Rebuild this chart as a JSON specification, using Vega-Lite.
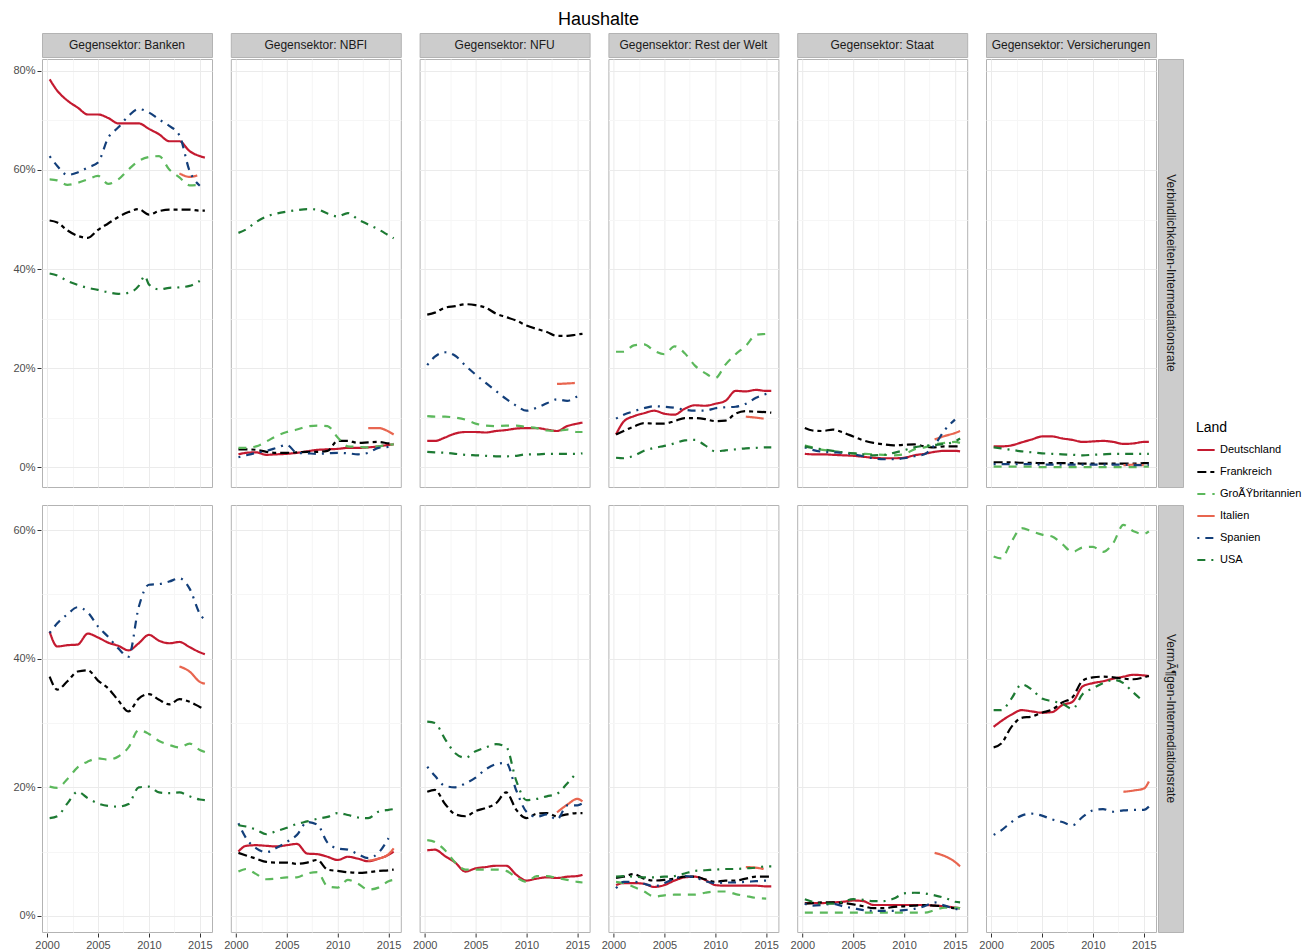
{
"$schema": "https://vega.github.io/schema/vega-lite/v6.json",
"background": "white",
"padding": {"left": 12, "top": 10, "right": 5, "bottom": 2},
"title": {"text": "Haushalte", "fontSize": 18, "fontWeight": "normal", "font": "Liberation Sans", "color": "#000000", "anchor": "start", "dx": 545, "offset": 4},
"datasets": {
"strips": [
{"g":"B","t":"Gegensektor: Banken"},{"g":"NB","t":"Gegensektor: NBFI"},{"g":"NF","t":"Gegensektor: NFU"},{"g":"R","t":"Gegensektor: Rest der Welt"},{"g":"S","t":"Gegensektor: Staat"},{"g":"V","t":"Gegensektor: Versicherungen"}
],
"main": [
{"g":"B","r":"L","l":"DE","x":2000.25,"y":78.3},{"g":"B","r":"L","l":"DE","x":2001,"y":76},{"g":"B","r":"L","l":"DE","x":2002,"y":74},{"g":"B","r":"L","l":"DE","x":2003,"y":72.6},{"g":"B","r":"L","l":"DE","x":2004,"y":71.2},{"g":"B","r":"L","l":"DE","x":2005,"y":71.2},{"g":"B","r":"L","l":"DE","x":2006,"y":70.5},{"g":"B","r":"L","l":"DE","x":2007,"y":69.4},{"g":"B","r":"L","l":"DE","x":2008,"y":69.4},{"g":"B","r":"L","l":"DE","x":2009,"y":69.4},{"g":"B","r":"L","l":"DE","x":2010,"y":68.3},{"g":"B","r":"L","l":"DE","x":2011,"y":67.2},{"g":"B","r":"L","l":"DE","x":2012,"y":65.8},{"g":"B","r":"L","l":"DE","x":2013,"y":65.8},{"g":"B","r":"L","l":"DE","x":2014,"y":63.8},{"g":"B","r":"L","l":"DE","x":2015,"y":62.8},{"g":"B","r":"L","l":"DE","x":2015.5,"y":62.5},
{"g":"B","r":"L","l":"FR","x":2000.25,"y":49.8},{"g":"B","r":"L","l":"FR","x":2001,"y":49.4},{"g":"B","r":"L","l":"FR","x":2002,"y":47.8},{"g":"B","r":"L","l":"FR","x":2003,"y":46.7},{"g":"B","r":"L","l":"FR","x":2004,"y":46.3},{"g":"B","r":"L","l":"FR","x":2005,"y":47.9},{"g":"B","r":"L","l":"FR","x":2006,"y":49.2},{"g":"B","r":"L","l":"FR","x":2007,"y":50.5},{"g":"B","r":"L","l":"FR","x":2008,"y":51.5},{"g":"B","r":"L","l":"FR","x":2009,"y":52.1},{"g":"B","r":"L","l":"FR","x":2010,"y":51},{"g":"B","r":"L","l":"FR","x":2011,"y":51.7},{"g":"B","r":"L","l":"FR","x":2012,"y":52},{"g":"B","r":"L","l":"FR","x":2013,"y":52},{"g":"B","r":"L","l":"FR","x":2014,"y":52},{"g":"B","r":"L","l":"FR","x":2015,"y":51.8},{"g":"B","r":"L","l":"FR","x":2015.5,"y":51.8},
{"g":"B","r":"L","l":"GB","x":2000.25,"y":58.1},{"g":"B","r":"L","l":"GB","x":2001,"y":57.9},{"g":"B","r":"L","l":"GB","x":2002,"y":57},{"g":"B","r":"L","l":"GB","x":2003,"y":57.4},{"g":"B","r":"L","l":"GB","x":2004,"y":58.1},{"g":"B","r":"L","l":"GB","x":2005,"y":58.8},{"g":"B","r":"L","l":"GB","x":2006,"y":57.2},{"g":"B","r":"L","l":"GB","x":2007,"y":58.1},{"g":"B","r":"L","l":"GB","x":2008,"y":60.1},{"g":"B","r":"L","l":"GB","x":2009,"y":61.8},{"g":"B","r":"L","l":"GB","x":2010,"y":62.6},{"g":"B","r":"L","l":"GB","x":2011,"y":62.8},{"g":"B","r":"L","l":"GB","x":2012,"y":60.1},{"g":"B","r":"L","l":"GB","x":2013,"y":58.5},{"g":"B","r":"L","l":"GB","x":2014,"y":56.9},{"g":"B","r":"L","l":"GB","x":2015,"y":57},
{"g":"B","r":"L","l":"IT","x":2013,"y":59.3},{"g":"B","r":"L","l":"IT","x":2014,"y":58.6},{"g":"B","r":"L","l":"IT","x":2014.75,"y":58.9},
{"g":"B","r":"L","l":"ES","x":2000.25,"y":62.8},{"g":"B","r":"L","l":"ES","x":2001,"y":60.8},{"g":"B","r":"L","l":"ES","x":2002,"y":59},{"g":"B","r":"L","l":"ES","x":2003,"y":59.5},{"g":"B","r":"L","l":"ES","x":2004,"y":60.5},{"g":"B","r":"L","l":"ES","x":2005,"y":61.5},{"g":"B","r":"L","l":"ES","x":2006,"y":66.5},{"g":"B","r":"L","l":"ES","x":2007,"y":68.6},{"g":"B","r":"L","l":"ES","x":2008,"y":70.9},{"g":"B","r":"L","l":"ES","x":2009,"y":72.3},{"g":"B","r":"L","l":"ES","x":2010,"y":71.6},{"g":"B","r":"L","l":"ES","x":2011,"y":70.2},{"g":"B","r":"L","l":"ES","x":2012,"y":68.9},{"g":"B","r":"L","l":"ES","x":2013,"y":67},{"g":"B","r":"L","l":"ES","x":2014,"y":59.8},{"g":"B","r":"L","l":"ES","x":2015,"y":56.8},
{"g":"B","r":"L","l":"US","x":2000.25,"y":39.1},{"g":"B","r":"L","l":"US","x":2001,"y":38.7},{"g":"B","r":"L","l":"US","x":2002,"y":37.6},{"g":"B","r":"L","l":"US","x":2003,"y":36.8},{"g":"B","r":"L","l":"US","x":2004,"y":36.2},{"g":"B","r":"L","l":"US","x":2005,"y":35.8},{"g":"B","r":"L","l":"US","x":2006,"y":35.3},{"g":"B","r":"L","l":"US","x":2007,"y":35},{"g":"B","r":"L","l":"US","x":2008,"y":35.2},{"g":"B","r":"L","l":"US","x":2009,"y":36.6},{"g":"B","r":"L","l":"US","x":2009.6,"y":38.6},{"g":"B","r":"L","l":"US","x":2010,"y":36.9},{"g":"B","r":"L","l":"US","x":2011,"y":35.9},{"g":"B","r":"L","l":"US","x":2012,"y":36.2},{"g":"B","r":"L","l":"US","x":2013,"y":36.3},{"g":"B","r":"L","l":"US","x":2014,"y":36.6},{"g":"B","r":"L","l":"US","x":2015,"y":37.6},

{"g":"NB","r":"L","l":"DE","x":2000.25,"y":2.6},{"g":"NB","r":"L","l":"DE","x":2001,"y":2.9},{"g":"NB","r":"L","l":"DE","x":2002,"y":3},{"g":"NB","r":"L","l":"DE","x":2003,"y":2.5},{"g":"NB","r":"L","l":"DE","x":2004,"y":2.6},{"g":"NB","r":"L","l":"DE","x":2005,"y":2.7},{"g":"NB","r":"L","l":"DE","x":2006,"y":2.9},{"g":"NB","r":"L","l":"DE","x":2007,"y":3.2},{"g":"NB","r":"L","l":"DE","x":2008,"y":3.5},{"g":"NB","r":"L","l":"DE","x":2009,"y":3.6},{"g":"NB","r":"L","l":"DE","x":2010,"y":3.7},{"g":"NB","r":"L","l":"DE","x":2011,"y":3.9},{"g":"NB","r":"L","l":"DE","x":2012,"y":3.9},{"g":"NB","r":"L","l":"DE","x":2013,"y":4},{"g":"NB","r":"L","l":"DE","x":2014,"y":4.2},{"g":"NB","r":"L","l":"DE","x":2015,"y":4.5},{"g":"NB","r":"L","l":"DE","x":2015.5,"y":4.6},
{"g":"NB","r":"L","l":"FR","x":2000.25,"y":3.6},{"g":"NB","r":"L","l":"FR","x":2001,"y":3.6},{"g":"NB","r":"L","l":"FR","x":2002,"y":3.5},{"g":"NB","r":"L","l":"FR","x":2003,"y":3.1},{"g":"NB","r":"L","l":"FR","x":2004,"y":2.9},{"g":"NB","r":"L","l":"FR","x":2005,"y":2.9},{"g":"NB","r":"L","l":"FR","x":2006,"y":3},{"g":"NB","r":"L","l":"FR","x":2007,"y":3.1},{"g":"NB","r":"L","l":"FR","x":2008,"y":3.1},{"g":"NB","r":"L","l":"FR","x":2009,"y":3.3},{"g":"NB","r":"L","l":"FR","x":2010,"y":5.3},{"g":"NB","r":"L","l":"FR","x":2011,"y":5.3},{"g":"NB","r":"L","l":"FR","x":2012,"y":4.9},{"g":"NB","r":"L","l":"FR","x":2013,"y":5},{"g":"NB","r":"L","l":"FR","x":2014,"y":5.1},{"g":"NB","r":"L","l":"FR","x":2015,"y":4.8},{"g":"NB","r":"L","l":"FR","x":2015.5,"y":4.7},
{"g":"NB","r":"L","l":"GB","x":2000.25,"y":3.9},{"g":"NB","r":"L","l":"GB","x":2001,"y":3.9},{"g":"NB","r":"L","l":"GB","x":2002,"y":4.2},{"g":"NB","r":"L","l":"GB","x":2003,"y":5.2},{"g":"NB","r":"L","l":"GB","x":2004,"y":6.3},{"g":"NB","r":"L","l":"GB","x":2005,"y":7.1},{"g":"NB","r":"L","l":"GB","x":2006,"y":7.6},{"g":"NB","r":"L","l":"GB","x":2007,"y":8.2},{"g":"NB","r":"L","l":"GB","x":2008,"y":8.4},{"g":"NB","r":"L","l":"GB","x":2009,"y":8.3},{"g":"NB","r":"L","l":"GB","x":2010,"y":6},{"g":"NB","r":"L","l":"GB","x":2011,"y":4.2},{"g":"NB","r":"L","l":"GB","x":2012,"y":4.1},{"g":"NB","r":"L","l":"GB","x":2013,"y":4},{"g":"NB","r":"L","l":"GB","x":2014,"y":4.2},{"g":"NB","r":"L","l":"GB","x":2015,"y":4.5},{"g":"NB","r":"L","l":"GB","x":2015.5,"y":4.6},
{"g":"NB","r":"L","l":"IT","x":2013,"y":7.9},{"g":"NB","r":"L","l":"IT","x":2014,"y":7.9},{"g":"NB","r":"L","l":"IT","x":2015,"y":7.2},{"g":"NB","r":"L","l":"IT","x":2015.5,"y":6.6},
{"g":"NB","r":"L","l":"ES","x":2000.25,"y":2},{"g":"NB","r":"L","l":"ES","x":2001,"y":2.4},{"g":"NB","r":"L","l":"ES","x":2002,"y":2.9},{"g":"NB","r":"L","l":"ES","x":2003,"y":3.3},{"g":"NB","r":"L","l":"ES","x":2004,"y":3.9},{"g":"NB","r":"L","l":"ES","x":2005,"y":4.5},{"g":"NB","r":"L","l":"ES","x":2006,"y":2.9},{"g":"NB","r":"L","l":"ES","x":2007,"y":2.8},{"g":"NB","r":"L","l":"ES","x":2008,"y":2.7},{"g":"NB","r":"L","l":"ES","x":2009,"y":2.8},{"g":"NB","r":"L","l":"ES","x":2010,"y":2.9},{"g":"NB","r":"L","l":"ES","x":2011,"y":2.8},{"g":"NB","r":"L","l":"ES","x":2012,"y":2.6},{"g":"NB","r":"L","l":"ES","x":2013,"y":2.9},{"g":"NB","r":"L","l":"ES","x":2014,"y":3.9},{"g":"NB","r":"L","l":"ES","x":2015,"y":4.1},{"g":"NB","r":"L","l":"ES","x":2015.5,"y":4.2},
{"g":"NB","r":"L","l":"US","x":2000.25,"y":47.3},{"g":"NB","r":"L","l":"US","x":2001,"y":48},{"g":"NB","r":"L","l":"US","x":2002,"y":49.5},{"g":"NB","r":"L","l":"US","x":2003,"y":50.6},{"g":"NB","r":"L","l":"US","x":2004,"y":51.2},{"g":"NB","r":"L","l":"US","x":2005,"y":51.6},{"g":"NB","r":"L","l":"US","x":2006,"y":51.9},{"g":"NB","r":"L","l":"US","x":2007,"y":52.1},{"g":"NB","r":"L","l":"US","x":2008,"y":52},{"g":"NB","r":"L","l":"US","x":2009,"y":51.2},{"g":"NB","r":"L","l":"US","x":2010,"y":50.6},{"g":"NB","r":"L","l":"US","x":2011,"y":51.3},{"g":"NB","r":"L","l":"US","x":2012,"y":50},{"g":"NB","r":"L","l":"US","x":2013,"y":49},{"g":"NB","r":"L","l":"US","x":2014,"y":48},{"g":"NB","r":"L","l":"US","x":2015,"y":46.8},{"g":"NB","r":"L","l":"US","x":2015.5,"y":46.2},

{"g":"NF","r":"L","l":"DE","x":2000.25,"y":5.3},{"g":"NF","r":"L","l":"DE","x":2001,"y":5.3},{"g":"NF","r":"L","l":"DE","x":2002,"y":6},{"g":"NF","r":"L","l":"DE","x":2003,"y":6.8},{"g":"NF","r":"L","l":"DE","x":2004,"y":7.1},{"g":"NF","r":"L","l":"DE","x":2005,"y":7.1},{"g":"NF","r":"L","l":"DE","x":2006,"y":7},{"g":"NF","r":"L","l":"DE","x":2007,"y":7.3},{"g":"NF","r":"L","l":"DE","x":2008,"y":7.5},{"g":"NF","r":"L","l":"DE","x":2009,"y":7.8},{"g":"NF","r":"L","l":"DE","x":2010,"y":7.9},{"g":"NF","r":"L","l":"DE","x":2011,"y":7.9},{"g":"NF","r":"L","l":"DE","x":2012,"y":7.6},{"g":"NF","r":"L","l":"DE","x":2013,"y":7.3},{"g":"NF","r":"L","l":"DE","x":2014,"y":8.3},{"g":"NF","r":"L","l":"DE","x":2015,"y":8.8},{"g":"NF","r":"L","l":"DE","x":2015.5,"y":9},
{"g":"NF","r":"L","l":"FR","x":2000.25,"y":30.8},{"g":"NF","r":"L","l":"FR","x":2001,"y":31.2},{"g":"NF","r":"L","l":"FR","x":2002,"y":32.2},{"g":"NF","r":"L","l":"FR","x":2003,"y":32.5},{"g":"NF","r":"L","l":"FR","x":2004,"y":32.9},{"g":"NF","r":"L","l":"FR","x":2005,"y":32.7},{"g":"NF","r":"L","l":"FR","x":2006,"y":32.2},{"g":"NF","r":"L","l":"FR","x":2007,"y":31},{"g":"NF","r":"L","l":"FR","x":2008,"y":30.3},{"g":"NF","r":"L","l":"FR","x":2009,"y":29.6},{"g":"NF","r":"L","l":"FR","x":2010,"y":28.6},{"g":"NF","r":"L","l":"FR","x":2011,"y":27.9},{"g":"NF","r":"L","l":"FR","x":2012,"y":27.3},{"g":"NF","r":"L","l":"FR","x":2013,"y":26.5},{"g":"NF","r":"L","l":"FR","x":2014,"y":26.5},{"g":"NF","r":"L","l":"FR","x":2015,"y":26.8},{"g":"NF","r":"L","l":"FR","x":2015.5,"y":26.9},
{"g":"NF","r":"L","l":"GB","x":2000.25,"y":10.3},{"g":"NF","r":"L","l":"GB","x":2001,"y":10.2},{"g":"NF","r":"L","l":"GB","x":2002,"y":10.2},{"g":"NF","r":"L","l":"GB","x":2003,"y":10},{"g":"NF","r":"L","l":"GB","x":2004,"y":9.6},{"g":"NF","r":"L","l":"GB","x":2005,"y":8.8},{"g":"NF","r":"L","l":"GB","x":2006,"y":8.4},{"g":"NF","r":"L","l":"GB","x":2007,"y":8.3},{"g":"NF","r":"L","l":"GB","x":2008,"y":8.4},{"g":"NF","r":"L","l":"GB","x":2009,"y":8.4},{"g":"NF","r":"L","l":"GB","x":2010,"y":8.1},{"g":"NF","r":"L","l":"GB","x":2011,"y":7.9},{"g":"NF","r":"L","l":"GB","x":2012,"y":7.4},{"g":"NF","r":"L","l":"GB","x":2013,"y":7.3},{"g":"NF","r":"L","l":"GB","x":2014,"y":7.6},{"g":"NF","r":"L","l":"GB","x":2015,"y":7.1},{"g":"NF","r":"L","l":"GB","x":2015.5,"y":7.1},
{"g":"NF","r":"L","l":"IT","x":2013,"y":16.8},{"g":"NF","r":"L","l":"IT","x":2014,"y":16.9},{"g":"NF","r":"L","l":"IT","x":2014.75,"y":17},
{"g":"NF","r":"L","l":"ES","x":2000.25,"y":20.6},{"g":"NF","r":"L","l":"ES","x":2001,"y":22.3},{"g":"NF","r":"L","l":"ES","x":2002,"y":23.2},{"g":"NF","r":"L","l":"ES","x":2003,"y":22.5},{"g":"NF","r":"L","l":"ES","x":2004,"y":20.5},{"g":"NF","r":"L","l":"ES","x":2005,"y":18.7},{"g":"NF","r":"L","l":"ES","x":2006,"y":17},{"g":"NF","r":"L","l":"ES","x":2007,"y":15.4},{"g":"NF","r":"L","l":"ES","x":2008,"y":13.8},{"g":"NF","r":"L","l":"ES","x":2009,"y":12.4},{"g":"NF","r":"L","l":"ES","x":2010,"y":11.4},{"g":"NF","r":"L","l":"ES","x":2011,"y":12},{"g":"NF","r":"L","l":"ES","x":2012,"y":12.9},{"g":"NF","r":"L","l":"ES","x":2013,"y":13.7},{"g":"NF","r":"L","l":"ES","x":2014,"y":13.4},{"g":"NF","r":"L","l":"ES","x":2015,"y":14.3},{"g":"NF","r":"L","l":"ES","x":2015.5,"y":14.8},
{"g":"NF","r":"L","l":"US","x":2000.25,"y":3.1},{"g":"NF","r":"L","l":"US","x":2001,"y":3},{"g":"NF","r":"L","l":"US","x":2002,"y":2.9},{"g":"NF","r":"L","l":"US","x":2003,"y":2.7},{"g":"NF","r":"L","l":"US","x":2004,"y":2.5},{"g":"NF","r":"L","l":"US","x":2005,"y":2.4},{"g":"NF","r":"L","l":"US","x":2006,"y":2.3},{"g":"NF","r":"L","l":"US","x":2007,"y":2.2},{"g":"NF","r":"L","l":"US","x":2008,"y":2.2},{"g":"NF","r":"L","l":"US","x":2009,"y":2.3},{"g":"NF","r":"L","l":"US","x":2010,"y":2.6},{"g":"NF","r":"L","l":"US","x":2011,"y":2.6},{"g":"NF","r":"L","l":"US","x":2012,"y":2.7},{"g":"NF","r":"L","l":"US","x":2013,"y":2.7},{"g":"NF","r":"L","l":"US","x":2014,"y":2.7},{"g":"NF","r":"L","l":"US","x":2015,"y":2.7},{"g":"NF","r":"L","l":"US","x":2015.5,"y":2.8},

{"g":"R","r":"L","l":"DE","x":2000.25,"y":6.6},{"g":"R","r":"L","l":"DE","x":2001,"y":9.2},{"g":"R","r":"L","l":"DE","x":2002,"y":10.3},{"g":"R","r":"L","l":"DE","x":2003,"y":10.9},{"g":"R","r":"L","l":"DE","x":2004,"y":11.4},{"g":"R","r":"L","l":"DE","x":2005,"y":10.8},{"g":"R","r":"L","l":"DE","x":2006,"y":10.6},{"g":"R","r":"L","l":"DE","x":2007,"y":11.8},{"g":"R","r":"L","l":"DE","x":2008,"y":12.5},{"g":"R","r":"L","l":"DE","x":2009,"y":12.4},{"g":"R","r":"L","l":"DE","x":2010,"y":12.8},{"g":"R","r":"L","l":"DE","x":2011,"y":13.4},{"g":"R","r":"L","l":"DE","x":2012,"y":15.4},{"g":"R","r":"L","l":"DE","x":2013,"y":15.3},{"g":"R","r":"L","l":"DE","x":2014,"y":15.6},{"g":"R","r":"L","l":"DE","x":2015,"y":15.4},{"g":"R","r":"L","l":"DE","x":2015.5,"y":15.4},
{"g":"R","r":"L","l":"FR","x":2000.25,"y":6.6},{"g":"R","r":"L","l":"FR","x":2001,"y":7.3},{"g":"R","r":"L","l":"FR","x":2002,"y":8.2},{"g":"R","r":"L","l":"FR","x":2003,"y":8.9},{"g":"R","r":"L","l":"FR","x":2004,"y":8.8},{"g":"R","r":"L","l":"FR","x":2005,"y":8.8},{"g":"R","r":"L","l":"FR","x":2006,"y":9.3},{"g":"R","r":"L","l":"FR","x":2007,"y":9.9},{"g":"R","r":"L","l":"FR","x":2008,"y":9.9},{"g":"R","r":"L","l":"FR","x":2009,"y":9.7},{"g":"R","r":"L","l":"FR","x":2010,"y":9.3},{"g":"R","r":"L","l":"FR","x":2011,"y":9.4},{"g":"R","r":"L","l":"FR","x":2012,"y":10.8},{"g":"R","r":"L","l":"FR","x":2013,"y":11.3},{"g":"R","r":"L","l":"FR","x":2014,"y":11.2},{"g":"R","r":"L","l":"FR","x":2015,"y":11.1},{"g":"R","r":"L","l":"FR","x":2015.5,"y":11},
{"g":"R","r":"L","l":"GB","x":2000.25,"y":23.3},{"g":"R","r":"L","l":"GB","x":2001,"y":23.3},{"g":"R","r":"L","l":"GB","x":2002,"y":24.6},{"g":"R","r":"L","l":"GB","x":2003,"y":24.8},{"g":"R","r":"L","l":"GB","x":2004,"y":23.5},{"g":"R","r":"L","l":"GB","x":2005,"y":22.8},{"g":"R","r":"L","l":"GB","x":2006,"y":24.4},{"g":"R","r":"L","l":"GB","x":2007,"y":23},{"g":"R","r":"L","l":"GB","x":2008,"y":20.5},{"g":"R","r":"L","l":"GB","x":2009,"y":19},{"g":"R","r":"L","l":"GB","x":2010,"y":18},{"g":"R","r":"L","l":"GB","x":2011,"y":20.7},{"g":"R","r":"L","l":"GB","x":2012,"y":22.8},{"g":"R","r":"L","l":"GB","x":2013,"y":24.5},{"g":"R","r":"L","l":"GB","x":2014,"y":26.7},{"g":"R","r":"L","l":"GB","x":2015,"y":26.9},{"g":"R","r":"L","l":"GB","x":2015.5,"y":27},
{"g":"R","r":"L","l":"IT","x":2013,"y":10.2},{"g":"R","r":"L","l":"IT","x":2014,"y":10},{"g":"R","r":"L","l":"IT","x":2014.75,"y":9.8},
{"g":"R","r":"L","l":"ES","x":2000.25,"y":9.8},{"g":"R","r":"L","l":"ES","x":2001,"y":10.6},{"g":"R","r":"L","l":"ES","x":2002,"y":11.3},{"g":"R","r":"L","l":"ES","x":2003,"y":11.9},{"g":"R","r":"L","l":"ES","x":2004,"y":12.3},{"g":"R","r":"L","l":"ES","x":2005,"y":12.2},{"g":"R","r":"L","l":"ES","x":2006,"y":12},{"g":"R","r":"L","l":"ES","x":2007,"y":11.6},{"g":"R","r":"L","l":"ES","x":2008,"y":11.4},{"g":"R","r":"L","l":"ES","x":2009,"y":11.4},{"g":"R","r":"L","l":"ES","x":2010,"y":11.9},{"g":"R","r":"L","l":"ES","x":2011,"y":12.1},{"g":"R","r":"L","l":"ES","x":2012,"y":12.2},{"g":"R","r":"L","l":"ES","x":2013,"y":12.8},{"g":"R","r":"L","l":"ES","x":2014,"y":14},{"g":"R","r":"L","l":"ES","x":2015,"y":14.8},{"g":"R","r":"L","l":"ES","x":2015.5,"y":15.1},
{"g":"R","r":"L","l":"US","x":2000.25,"y":1.9},{"g":"R","r":"L","l":"US","x":2001,"y":1.8},{"g":"R","r":"L","l":"US","x":2002,"y":2.3},{"g":"R","r":"L","l":"US","x":2003,"y":3.3},{"g":"R","r":"L","l":"US","x":2004,"y":3.9},{"g":"R","r":"L","l":"US","x":2005,"y":4.3},{"g":"R","r":"L","l":"US","x":2006,"y":4.8},{"g":"R","r":"L","l":"US","x":2007,"y":5.4},{"g":"R","r":"L","l":"US","x":2008,"y":5.5},{"g":"R","r":"L","l":"US","x":2009,"y":4.4},{"g":"R","r":"L","l":"US","x":2010,"y":3.2},{"g":"R","r":"L","l":"US","x":2011,"y":3.4},{"g":"R","r":"L","l":"US","x":2012,"y":3.6},{"g":"R","r":"L","l":"US","x":2013,"y":3.8},{"g":"R","r":"L","l":"US","x":2014,"y":3.9},{"g":"R","r":"L","l":"US","x":2015,"y":4},{"g":"R","r":"L","l":"US","x":2015.5,"y":4},

{"g":"S","r":"L","l":"DE","x":2000.25,"y":2.7},{"g":"S","r":"L","l":"DE","x":2001,"y":2.6},{"g":"S","r":"L","l":"DE","x":2002,"y":2.6},{"g":"S","r":"L","l":"DE","x":2003,"y":2.5},{"g":"S","r":"L","l":"DE","x":2004,"y":2.4},{"g":"S","r":"L","l":"DE","x":2005,"y":2.3},{"g":"S","r":"L","l":"DE","x":2006,"y":2.1},{"g":"S","r":"L","l":"DE","x":2007,"y":1.9},{"g":"S","r":"L","l":"DE","x":2008,"y":1.8},{"g":"S","r":"L","l":"DE","x":2009,"y":1.8},{"g":"S","r":"L","l":"DE","x":2010,"y":1.9},{"g":"S","r":"L","l":"DE","x":2011,"y":2.4},{"g":"S","r":"L","l":"DE","x":2012,"y":2.7},{"g":"S","r":"L","l":"DE","x":2013,"y":3.1},{"g":"S","r":"L","l":"DE","x":2014,"y":3.3},{"g":"S","r":"L","l":"DE","x":2015,"y":3.3},{"g":"S","r":"L","l":"DE","x":2015.5,"y":3.2},
{"g":"S","r":"L","l":"FR","x":2000.25,"y":7.9},{"g":"S","r":"L","l":"FR","x":2001,"y":7.4},{"g":"S","r":"L","l":"FR","x":2002,"y":7.3},{"g":"S","r":"L","l":"FR","x":2003,"y":7.6},{"g":"S","r":"L","l":"FR","x":2004,"y":7},{"g":"S","r":"L","l":"FR","x":2005,"y":6.2},{"g":"S","r":"L","l":"FR","x":2006,"y":5.4},{"g":"S","r":"L","l":"FR","x":2007,"y":4.9},{"g":"S","r":"L","l":"FR","x":2008,"y":4.6},{"g":"S","r":"L","l":"FR","x":2009,"y":4.4},{"g":"S","r":"L","l":"FR","x":2010,"y":4.5},{"g":"S","r":"L","l":"FR","x":2011,"y":4.6},{"g":"S","r":"L","l":"FR","x":2012,"y":4.2},{"g":"S","r":"L","l":"FR","x":2013,"y":4},{"g":"S","r":"L","l":"FR","x":2014,"y":4.2},{"g":"S","r":"L","l":"FR","x":2015,"y":4.2},{"g":"S","r":"L","l":"FR","x":2015.5,"y":4.2},
{"g":"S","r":"L","l":"GB","x":2000.25,"y":4.4},{"g":"S","r":"L","l":"GB","x":2001,"y":4},{"g":"S","r":"L","l":"GB","x":2002,"y":3.5},{"g":"S","r":"L","l":"GB","x":2003,"y":3.3},{"g":"S","r":"L","l":"GB","x":2004,"y":3},{"g":"S","r":"L","l":"GB","x":2005,"y":2.8},{"g":"S","r":"L","l":"GB","x":2006,"y":2.7},{"g":"S","r":"L","l":"GB","x":2007,"y":2.6},{"g":"S","r":"L","l":"GB","x":2008,"y":2.5},{"g":"S","r":"L","l":"GB","x":2009,"y":2.4},{"g":"S","r":"L","l":"GB","x":2010,"y":2.6},{"g":"S","r":"L","l":"GB","x":2011,"y":3.6},{"g":"S","r":"L","l":"GB","x":2012,"y":4},{"g":"S","r":"L","l":"GB","x":2013,"y":4.6},{"g":"S","r":"L","l":"GB","x":2014,"y":4.9},{"g":"S","r":"L","l":"GB","x":2015,"y":5.1},{"g":"S","r":"L","l":"GB","x":2015.5,"y":4.9},
{"g":"S","r":"L","l":"IT","x":2013,"y":5.6},{"g":"S","r":"L","l":"IT","x":2014,"y":6.3},{"g":"S","r":"L","l":"IT","x":2015,"y":6.9},{"g":"S","r":"L","l":"IT","x":2015.5,"y":7.3},
{"g":"S","r":"L","l":"ES","x":2000.25,"y":4},{"g":"S","r":"L","l":"ES","x":2001,"y":3.5},{"g":"S","r":"L","l":"ES","x":2002,"y":3.1},{"g":"S","r":"L","l":"ES","x":2003,"y":3},{"g":"S","r":"L","l":"ES","x":2004,"y":2.9},{"g":"S","r":"L","l":"ES","x":2005,"y":2.6},{"g":"S","r":"L","l":"ES","x":2006,"y":2.2},{"g":"S","r":"L","l":"ES","x":2007,"y":1.8},{"g":"S","r":"L","l":"ES","x":2008,"y":1.6},{"g":"S","r":"L","l":"ES","x":2009,"y":1.6},{"g":"S","r":"L","l":"ES","x":2010,"y":1.8},{"g":"S","r":"L","l":"ES","x":2011,"y":2.2},{"g":"S","r":"L","l":"ES","x":2012,"y":2.6},{"g":"S","r":"L","l":"ES","x":2013,"y":4.5},{"g":"S","r":"L","l":"ES","x":2014,"y":7.5},{"g":"S","r":"L","l":"ES","x":2015,"y":9.6},
{"g":"S","r":"L","l":"US","x":2000.25,"y":4.2},{"g":"S","r":"L","l":"US","x":2001,"y":3.9},{"g":"S","r":"L","l":"US","x":2002,"y":3.6},{"g":"S","r":"L","l":"US","x":2003,"y":3.3},{"g":"S","r":"L","l":"US","x":2004,"y":3},{"g":"S","r":"L","l":"US","x":2005,"y":2.8},{"g":"S","r":"L","l":"US","x":2006,"y":2.6},{"g":"S","r":"L","l":"US","x":2007,"y":2.4},{"g":"S","r":"L","l":"US","x":2008,"y":2.5},{"g":"S","r":"L","l":"US","x":2009,"y":2.9},{"g":"S","r":"L","l":"US","x":2010,"y":3.4},{"g":"S","r":"L","l":"US","x":2011,"y":4},{"g":"S","r":"L","l":"US","x":2012,"y":4.3},{"g":"S","r":"L","l":"US","x":2013,"y":4.5},{"g":"S","r":"L","l":"US","x":2014,"y":4.7},{"g":"S","r":"L","l":"US","x":2015,"y":5.2},{"g":"S","r":"L","l":"US","x":2015.5,"y":5.8},

{"g":"V","r":"L","l":"DE","x":2000.25,"y":4.2},{"g":"V","r":"L","l":"DE","x":2001,"y":4.2},{"g":"V","r":"L","l":"DE","x":2002,"y":4.4},{"g":"V","r":"L","l":"DE","x":2003,"y":5},{"g":"V","r":"L","l":"DE","x":2004,"y":5.6},{"g":"V","r":"L","l":"DE","x":2005,"y":6.2},{"g":"V","r":"L","l":"DE","x":2006,"y":6.2},{"g":"V","r":"L","l":"DE","x":2007,"y":5.8},{"g":"V","r":"L","l":"DE","x":2008,"y":5.5},{"g":"V","r":"L","l":"DE","x":2009,"y":5.1},{"g":"V","r":"L","l":"DE","x":2010,"y":5.2},{"g":"V","r":"L","l":"DE","x":2011,"y":5.3},{"g":"V","r":"L","l":"DE","x":2012,"y":5.1},{"g":"V","r":"L","l":"DE","x":2013,"y":4.7},{"g":"V","r":"L","l":"DE","x":2014,"y":4.8},{"g":"V","r":"L","l":"DE","x":2015,"y":5.1},{"g":"V","r":"L","l":"DE","x":2015.5,"y":5.1},
{"g":"V","r":"L","l":"FR","x":2000.25,"y":1},{"g":"V","r":"L","l":"FR","x":2001,"y":1},{"g":"V","r":"L","l":"FR","x":2002,"y":1},{"g":"V","r":"L","l":"FR","x":2003,"y":0.9},{"g":"V","r":"L","l":"FR","x":2004,"y":0.9},{"g":"V","r":"L","l":"FR","x":2005,"y":0.8},{"g":"V","r":"L","l":"FR","x":2006,"y":0.8},{"g":"V","r":"L","l":"FR","x":2007,"y":0.8},{"g":"V","r":"L","l":"FR","x":2008,"y":0.8},{"g":"V","r":"L","l":"FR","x":2009,"y":0.7},{"g":"V","r":"L","l":"FR","x":2010,"y":0.7},{"g":"V","r":"L","l":"FR","x":2011,"y":0.7},{"g":"V","r":"L","l":"FR","x":2012,"y":0.7},{"g":"V","r":"L","l":"FR","x":2013,"y":0.7},{"g":"V","r":"L","l":"FR","x":2014,"y":0.7},{"g":"V","r":"L","l":"FR","x":2015,"y":0.8},{"g":"V","r":"L","l":"FR","x":2015.5,"y":0.8},
{"g":"V","r":"L","l":"GB","x":2000.25,"y":0.1},{"g":"V","r":"L","l":"GB","x":2001,"y":0.1},{"g":"V","r":"L","l":"GB","x":2002,"y":0.1},{"g":"V","r":"L","l":"GB","x":2003,"y":0.1},{"g":"V","r":"L","l":"GB","x":2004,"y":0.1},{"g":"V","r":"L","l":"GB","x":2005,"y":0},{"g":"V","r":"L","l":"GB","x":2006,"y":0},{"g":"V","r":"L","l":"GB","x":2007,"y":0},{"g":"V","r":"L","l":"GB","x":2008,"y":0},{"g":"V","r":"L","l":"GB","x":2009,"y":0},{"g":"V","r":"L","l":"GB","x":2010,"y":0},{"g":"V","r":"L","l":"GB","x":2011,"y":0},{"g":"V","r":"L","l":"GB","x":2012,"y":0},{"g":"V","r":"L","l":"GB","x":2013,"y":0},{"g":"V","r":"L","l":"GB","x":2014,"y":0},{"g":"V","r":"L","l":"GB","x":2015,"y":0.1},{"g":"V","r":"L","l":"GB","x":2015.5,"y":0.1},
{"g":"V","r":"L","l":"IT","x":2013,"y":0.4},{"g":"V","r":"L","l":"IT","x":2014,"y":0.5},{"g":"V","r":"L","l":"IT","x":2015,"y":0.4},
{"g":"V","r":"L","l":"ES","x":2000.25,"y":0.6},{"g":"V","r":"L","l":"ES","x":2001,"y":0.6},{"g":"V","r":"L","l":"ES","x":2002,"y":0.6},{"g":"V","r":"L","l":"ES","x":2003,"y":0.6},{"g":"V","r":"L","l":"ES","x":2004,"y":0.6},{"g":"V","r":"L","l":"ES","x":2005,"y":0.5},{"g":"V","r":"L","l":"ES","x":2006,"y":0.5},{"g":"V","r":"L","l":"ES","x":2007,"y":0.5},{"g":"V","r":"L","l":"ES","x":2008,"y":0.5},{"g":"V","r":"L","l":"ES","x":2009,"y":0.5},{"g":"V","r":"L","l":"ES","x":2010,"y":0.5},{"g":"V","r":"L","l":"ES","x":2011,"y":0.5},{"g":"V","r":"L","l":"ES","x":2012,"y":0.5},{"g":"V","r":"L","l":"ES","x":2013,"y":0.5},{"g":"V","r":"L","l":"ES","x":2014,"y":0.4},{"g":"V","r":"L","l":"ES","x":2015,"y":0.4},{"g":"V","r":"L","l":"ES","x":2015.5,"y":0.5},
{"g":"V","r":"L","l":"US","x":2000.25,"y":4},{"g":"V","r":"L","l":"US","x":2001,"y":3.8},{"g":"V","r":"L","l":"US","x":2002,"y":3.5},{"g":"V","r":"L","l":"US","x":2003,"y":3.2},{"g":"V","r":"L","l":"US","x":2004,"y":3},{"g":"V","r":"L","l":"US","x":2005,"y":2.8},{"g":"V","r":"L","l":"US","x":2006,"y":2.7},{"g":"V","r":"L","l":"US","x":2007,"y":2.6},{"g":"V","r":"L","l":"US","x":2008,"y":2.5},{"g":"V","r":"L","l":"US","x":2009,"y":2.4},{"g":"V","r":"L","l":"US","x":2010,"y":2.5},{"g":"V","r":"L","l":"US","x":2011,"y":2.6},{"g":"V","r":"L","l":"US","x":2012,"y":2.7},{"g":"V","r":"L","l":"US","x":2013,"y":2.7},{"g":"V","r":"L","l":"US","x":2014,"y":2.7},{"g":"V","r":"L","l":"US","x":2015,"y":2.7},{"g":"V","r":"L","l":"US","x":2015.5,"y":2.7},

{"g":"B","r":"A","l":"DE","x":2000.25,"y":44.2},{"g":"B","r":"A","l":"DE","x":2001,"y":41.9},{"g":"B","r":"A","l":"DE","x":2002,"y":42.1},{"g":"B","r":"A","l":"DE","x":2003,"y":42.2},{"g":"B","r":"A","l":"DE","x":2004,"y":43.9},{"g":"B","r":"A","l":"DE","x":2005,"y":43.3},{"g":"B","r":"A","l":"DE","x":2006,"y":42.5},{"g":"B","r":"A","l":"DE","x":2007,"y":42},{"g":"B","r":"A","l":"DE","x":2008,"y":41.3},{"g":"B","r":"A","l":"DE","x":2009,"y":42.4},{"g":"B","r":"A","l":"DE","x":2010,"y":43.7},{"g":"B","r":"A","l":"DE","x":2011,"y":42.8},{"g":"B","r":"A","l":"DE","x":2012,"y":42.4},{"g":"B","r":"A","l":"DE","x":2013,"y":42.6},{"g":"B","r":"A","l":"DE","x":2014,"y":41.8},{"g":"B","r":"A","l":"DE","x":2015,"y":41},{"g":"B","r":"A","l":"DE","x":2015.5,"y":40.7},
{"g":"B","r":"A","l":"FR","x":2000.25,"y":37.2},{"g":"B","r":"A","l":"FR","x":2001,"y":35.2},{"g":"B","r":"A","l":"FR","x":2002,"y":36.5},{"g":"B","r":"A","l":"FR","x":2003,"y":38},{"g":"B","r":"A","l":"FR","x":2004,"y":38.2},{"g":"B","r":"A","l":"FR","x":2005,"y":36.6},{"g":"B","r":"A","l":"FR","x":2006,"y":35.4},{"g":"B","r":"A","l":"FR","x":2007,"y":33.5},{"g":"B","r":"A","l":"FR","x":2008,"y":31.8},{"g":"B","r":"A","l":"FR","x":2009,"y":33.8},{"g":"B","r":"A","l":"FR","x":2010,"y":34.5},{"g":"B","r":"A","l":"FR","x":2011,"y":33.6},{"g":"B","r":"A","l":"FR","x":2012,"y":32.9},{"g":"B","r":"A","l":"FR","x":2013,"y":33.7},{"g":"B","r":"A","l":"FR","x":2014,"y":33.3},{"g":"B","r":"A","l":"FR","x":2015,"y":32.5},{"g":"B","r":"A","l":"FR","x":2015.5,"y":32.1},
{"g":"B","r":"A","l":"GB","x":2000.25,"y":20.1},{"g":"B","r":"A","l":"GB","x":2001,"y":19.9},{"g":"B","r":"A","l":"GB","x":2002,"y":21.3},{"g":"B","r":"A","l":"GB","x":2003,"y":23.1},{"g":"B","r":"A","l":"GB","x":2004,"y":24},{"g":"B","r":"A","l":"GB","x":2005,"y":24.5},{"g":"B","r":"A","l":"GB","x":2006,"y":24.3},{"g":"B","r":"A","l":"GB","x":2007,"y":24.8},{"g":"B","r":"A","l":"GB","x":2008,"y":26.2},{"g":"B","r":"A","l":"GB","x":2009,"y":28.9},{"g":"B","r":"A","l":"GB","x":2010,"y":28.3},{"g":"B","r":"A","l":"GB","x":2011,"y":27.2},{"g":"B","r":"A","l":"GB","x":2012,"y":26.6},{"g":"B","r":"A","l":"GB","x":2013,"y":26.2},{"g":"B","r":"A","l":"GB","x":2014,"y":26.8},{"g":"B","r":"A","l":"GB","x":2015,"y":25.8},{"g":"B","r":"A","l":"GB","x":2015.5,"y":25.5},
{"g":"B","r":"A","l":"IT","x":2013,"y":38.8},{"g":"B","r":"A","l":"IT","x":2014,"y":38},{"g":"B","r":"A","l":"IT","x":2015,"y":36.4},{"g":"B","r":"A","l":"IT","x":2015.5,"y":36.1},
{"g":"B","r":"A","l":"ES","x":2000.25,"y":44},{"g":"B","r":"A","l":"ES","x":2001,"y":45.5},{"g":"B","r":"A","l":"ES","x":2002,"y":46.9},{"g":"B","r":"A","l":"ES","x":2003,"y":48},{"g":"B","r":"A","l":"ES","x":2004,"y":47.2},{"g":"B","r":"A","l":"ES","x":2005,"y":45},{"g":"B","r":"A","l":"ES","x":2006,"y":43.4},{"g":"B","r":"A","l":"ES","x":2007,"y":41.6},{"g":"B","r":"A","l":"ES","x":2008,"y":40.3},{"g":"B","r":"A","l":"ES","x":2009,"y":48},{"g":"B","r":"A","l":"ES","x":2010,"y":51.5},{"g":"B","r":"A","l":"ES","x":2011,"y":51.6},{"g":"B","r":"A","l":"ES","x":2012,"y":52},{"g":"B","r":"A","l":"ES","x":2013,"y":52.5},{"g":"B","r":"A","l":"ES","x":2014,"y":50.9},{"g":"B","r":"A","l":"ES","x":2015,"y":47},{"g":"B","r":"A","l":"ES","x":2015.5,"y":46},
{"g":"B","r":"A","l":"US","x":2000.25,"y":15.2},{"g":"B","r":"A","l":"US","x":2001,"y":15.5},{"g":"B","r":"A","l":"US","x":2002,"y":17.5},{"g":"B","r":"A","l":"US","x":2003,"y":19.3},{"g":"B","r":"A","l":"US","x":2004,"y":18.3},{"g":"B","r":"A","l":"US","x":2005,"y":17.5},{"g":"B","r":"A","l":"US","x":2006,"y":17.1},{"g":"B","r":"A","l":"US","x":2007,"y":17},{"g":"B","r":"A","l":"US","x":2008,"y":17.4},{"g":"B","r":"A","l":"US","x":2009,"y":20},{"g":"B","r":"A","l":"US","x":2010,"y":20.1},{"g":"B","r":"A","l":"US","x":2011,"y":19.2},{"g":"B","r":"A","l":"US","x":2012,"y":19.1},{"g":"B","r":"A","l":"US","x":2013,"y":19.2},{"g":"B","r":"A","l":"US","x":2014,"y":18.6},{"g":"B","r":"A","l":"US","x":2015,"y":18.1},{"g":"B","r":"A","l":"US","x":2015.5,"y":18},

{"g":"NB","r":"A","l":"DE","x":2000.25,"y":10},{"g":"NB","r":"A","l":"DE","x":2001,"y":10.9},{"g":"NB","r":"A","l":"DE","x":2002,"y":11},{"g":"NB","r":"A","l":"DE","x":2003,"y":10.9},{"g":"NB","r":"A","l":"DE","x":2004,"y":10.8},{"g":"NB","r":"A","l":"DE","x":2005,"y":11},{"g":"NB","r":"A","l":"DE","x":2006,"y":11.2},{"g":"NB","r":"A","l":"DE","x":2007,"y":9.7},{"g":"NB","r":"A","l":"DE","x":2008,"y":9.6},{"g":"NB","r":"A","l":"DE","x":2009,"y":9.2},{"g":"NB","r":"A","l":"DE","x":2010,"y":8.7},{"g":"NB","r":"A","l":"DE","x":2011,"y":9.2},{"g":"NB","r":"A","l":"DE","x":2012,"y":8.9},{"g":"NB","r":"A","l":"DE","x":2013,"y":8.5},{"g":"NB","r":"A","l":"DE","x":2014,"y":8.9},{"g":"NB","r":"A","l":"DE","x":2015,"y":9.5},{"g":"NB","r":"A","l":"DE","x":2015.5,"y":10},
{"g":"NB","r":"A","l":"FR","x":2000.25,"y":9.8},{"g":"NB","r":"A","l":"FR","x":2001,"y":9.4},{"g":"NB","r":"A","l":"FR","x":2002,"y":8.9},{"g":"NB","r":"A","l":"FR","x":2003,"y":8.4},{"g":"NB","r":"A","l":"FR","x":2004,"y":8.3},{"g":"NB","r":"A","l":"FR","x":2005,"y":8.3},{"g":"NB","r":"A","l":"FR","x":2006,"y":8.1},{"g":"NB","r":"A","l":"FR","x":2007,"y":8.3},{"g":"NB","r":"A","l":"FR","x":2008,"y":8.7},{"g":"NB","r":"A","l":"FR","x":2009,"y":7.2},{"g":"NB","r":"A","l":"FR","x":2010,"y":7},{"g":"NB","r":"A","l":"FR","x":2011,"y":6.8},{"g":"NB","r":"A","l":"FR","x":2012,"y":6.7},{"g":"NB","r":"A","l":"FR","x":2013,"y":6.8},{"g":"NB","r":"A","l":"FR","x":2014,"y":7},{"g":"NB","r":"A","l":"FR","x":2015,"y":7.1},{"g":"NB","r":"A","l":"FR","x":2015.5,"y":7.2},
{"g":"NB","r":"A","l":"GB","x":2000.25,"y":6.9},{"g":"NB","r":"A","l":"GB","x":2001,"y":7.3},{"g":"NB","r":"A","l":"GB","x":2002,"y":6.5},{"g":"NB","r":"A","l":"GB","x":2003,"y":5.7},{"g":"NB","r":"A","l":"GB","x":2004,"y":5.8},{"g":"NB","r":"A","l":"GB","x":2005,"y":6},{"g":"NB","r":"A","l":"GB","x":2006,"y":6},{"g":"NB","r":"A","l":"GB","x":2007,"y":6.6},{"g":"NB","r":"A","l":"GB","x":2008,"y":6.8},{"g":"NB","r":"A","l":"GB","x":2009,"y":4.6},{"g":"NB","r":"A","l":"GB","x":2010,"y":4.4},{"g":"NB","r":"A","l":"GB","x":2011,"y":5.6},{"g":"NB","r":"A","l":"GB","x":2012,"y":5},{"g":"NB","r":"A","l":"GB","x":2013,"y":4.1},{"g":"NB","r":"A","l":"GB","x":2014,"y":4.4},{"g":"NB","r":"A","l":"GB","x":2015,"y":5.4},{"g":"NB","r":"A","l":"GB","x":2015.5,"y":5.6},
{"g":"NB","r":"A","l":"IT","x":2013,"y":8.6},{"g":"NB","r":"A","l":"IT","x":2014,"y":8.9},{"g":"NB","r":"A","l":"IT","x":2015,"y":9.6},{"g":"NB","r":"A","l":"IT","x":2015.5,"y":10.5},
{"g":"NB","r":"A","l":"ES","x":2000.25,"y":14.4},{"g":"NB","r":"A","l":"ES","x":2001,"y":12.1},{"g":"NB","r":"A","l":"ES","x":2002,"y":10.5},{"g":"NB","r":"A","l":"ES","x":2003,"y":9.9},{"g":"NB","r":"A","l":"ES","x":2004,"y":10.6},{"g":"NB","r":"A","l":"ES","x":2005,"y":11.5},{"g":"NB","r":"A","l":"ES","x":2006,"y":12.6},{"g":"NB","r":"A","l":"ES","x":2007,"y":14.6},{"g":"NB","r":"A","l":"ES","x":2008,"y":14.2},{"g":"NB","r":"A","l":"ES","x":2009,"y":11.4},{"g":"NB","r":"A","l":"ES","x":2010,"y":10.5},{"g":"NB","r":"A","l":"ES","x":2011,"y":10.3},{"g":"NB","r":"A","l":"ES","x":2012,"y":9.6},{"g":"NB","r":"A","l":"ES","x":2013,"y":9},{"g":"NB","r":"A","l":"ES","x":2014,"y":9.8},{"g":"NB","r":"A","l":"ES","x":2015,"y":12.1},
{"g":"NB","r":"A","l":"US","x":2000.25,"y":14.1},{"g":"NB","r":"A","l":"US","x":2001,"y":13.9},{"g":"NB","r":"A","l":"US","x":2002,"y":13.4},{"g":"NB","r":"A","l":"US","x":2003,"y":12.7},{"g":"NB","r":"A","l":"US","x":2004,"y":13.2},{"g":"NB","r":"A","l":"US","x":2005,"y":13.7},{"g":"NB","r":"A","l":"US","x":2006,"y":14.3},{"g":"NB","r":"A","l":"US","x":2007,"y":14.7},{"g":"NB","r":"A","l":"US","x":2008,"y":15.1},{"g":"NB","r":"A","l":"US","x":2009,"y":15.4},{"g":"NB","r":"A","l":"US","x":2010,"y":16},{"g":"NB","r":"A","l":"US","x":2011,"y":15.7},{"g":"NB","r":"A","l":"US","x":2012,"y":15.3},{"g":"NB","r":"A","l":"US","x":2013,"y":15.2},{"g":"NB","r":"A","l":"US","x":2014,"y":16.2},{"g":"NB","r":"A","l":"US","x":2015,"y":16.5},{"g":"NB","r":"A","l":"US","x":2015.5,"y":16.6},

{"g":"NF","r":"A","l":"DE","x":2000.25,"y":10.2},{"g":"NF","r":"A","l":"DE","x":2001,"y":10.3},{"g":"NF","r":"A","l":"DE","x":2002,"y":9.3},{"g":"NF","r":"A","l":"DE","x":2003,"y":8.3},{"g":"NF","r":"A","l":"DE","x":2004,"y":6.9},{"g":"NF","r":"A","l":"DE","x":2005,"y":7.4},{"g":"NF","r":"A","l":"DE","x":2006,"y":7.6},{"g":"NF","r":"A","l":"DE","x":2007,"y":7.8},{"g":"NF","r":"A","l":"DE","x":2008,"y":7.8},{"g":"NF","r":"A","l":"DE","x":2009,"y":6.4},{"g":"NF","r":"A","l":"DE","x":2010,"y":5.5},{"g":"NF","r":"A","l":"DE","x":2011,"y":5.8},{"g":"NF","r":"A","l":"DE","x":2012,"y":6},{"g":"NF","r":"A","l":"DE","x":2013,"y":5.9},{"g":"NF","r":"A","l":"DE","x":2014,"y":6.1},{"g":"NF","r":"A","l":"DE","x":2015,"y":6.2},{"g":"NF","r":"A","l":"DE","x":2015.5,"y":6.4},
{"g":"NF","r":"A","l":"FR","x":2000.25,"y":19.3},{"g":"NF","r":"A","l":"FR","x":2001,"y":19.6},{"g":"NF","r":"A","l":"FR","x":2002,"y":17.4},{"g":"NF","r":"A","l":"FR","x":2003,"y":15.8},{"g":"NF","r":"A","l":"FR","x":2004,"y":15.5},{"g":"NF","r":"A","l":"FR","x":2005,"y":16.3},{"g":"NF","r":"A","l":"FR","x":2006,"y":16.8},{"g":"NF","r":"A","l":"FR","x":2007,"y":17.5},{"g":"NF","r":"A","l":"FR","x":2008,"y":19.2},{"g":"NF","r":"A","l":"FR","x":2009,"y":16.5},{"g":"NF","r":"A","l":"FR","x":2010,"y":15.2},{"g":"NF","r":"A","l":"FR","x":2011,"y":15.9},{"g":"NF","r":"A","l":"FR","x":2012,"y":16},{"g":"NF","r":"A","l":"FR","x":2013,"y":15.5},{"g":"NF","r":"A","l":"FR","x":2014,"y":15.8},{"g":"NF","r":"A","l":"FR","x":2015,"y":16},{"g":"NF","r":"A","l":"FR","x":2015.5,"y":16},
{"g":"NF","r":"A","l":"GB","x":2000.25,"y":11.8},{"g":"NF","r":"A","l":"GB","x":2001,"y":11.5},{"g":"NF","r":"A","l":"GB","x":2002,"y":10.2},{"g":"NF","r":"A","l":"GB","x":2003,"y":8.3},{"g":"NF","r":"A","l":"GB","x":2004,"y":7.2},{"g":"NF","r":"A","l":"GB","x":2005,"y":7.2},{"g":"NF","r":"A","l":"GB","x":2006,"y":7.2},{"g":"NF","r":"A","l":"GB","x":2007,"y":7.2},{"g":"NF","r":"A","l":"GB","x":2008,"y":7},{"g":"NF","r":"A","l":"GB","x":2009,"y":6},{"g":"NF","r":"A","l":"GB","x":2010,"y":5.3},{"g":"NF","r":"A","l":"GB","x":2011,"y":6.2},{"g":"NF","r":"A","l":"GB","x":2012,"y":6.2},{"g":"NF","r":"A","l":"GB","x":2013,"y":5.9},{"g":"NF","r":"A","l":"GB","x":2014,"y":5.6},{"g":"NF","r":"A","l":"GB","x":2015,"y":5.3},{"g":"NF","r":"A","l":"GB","x":2015.5,"y":5.2},
{"g":"NF","r":"A","l":"IT","x":2013,"y":16.1},{"g":"NF","r":"A","l":"IT","x":2014,"y":17.3},{"g":"NF","r":"A","l":"IT","x":2015,"y":18.2},{"g":"NF","r":"A","l":"IT","x":2015.5,"y":17.8},
{"g":"NF","r":"A","l":"ES","x":2000.25,"y":23.2},{"g":"NF","r":"A","l":"ES","x":2001,"y":21.8},{"g":"NF","r":"A","l":"ES","x":2002,"y":20.2},{"g":"NF","r":"A","l":"ES","x":2003,"y":20},{"g":"NF","r":"A","l":"ES","x":2004,"y":20.6},{"g":"NF","r":"A","l":"ES","x":2005,"y":21.5},{"g":"NF","r":"A","l":"ES","x":2006,"y":22.8},{"g":"NF","r":"A","l":"ES","x":2007,"y":23.6},{"g":"NF","r":"A","l":"ES","x":2008,"y":23.8},{"g":"NF","r":"A","l":"ES","x":2009,"y":19.5},{"g":"NF","r":"A","l":"ES","x":2010,"y":16.2},{"g":"NF","r":"A","l":"ES","x":2011,"y":15.4},{"g":"NF","r":"A","l":"ES","x":2012,"y":15.8},{"g":"NF","r":"A","l":"ES","x":2013,"y":15},{"g":"NF","r":"A","l":"ES","x":2014,"y":17.2},{"g":"NF","r":"A","l":"ES","x":2015,"y":17.2},{"g":"NF","r":"A","l":"ES","x":2015.5,"y":17.5},
{"g":"NF","r":"A","l":"US","x":2000.25,"y":30.2},{"g":"NF","r":"A","l":"US","x":2001,"y":30},{"g":"NF","r":"A","l":"US","x":2002,"y":27.5},{"g":"NF","r":"A","l":"US","x":2003,"y":25.3},{"g":"NF","r":"A","l":"US","x":2004,"y":24.6},{"g":"NF","r":"A","l":"US","x":2005,"y":25.6},{"g":"NF","r":"A","l":"US","x":2006,"y":26.2},{"g":"NF","r":"A","l":"US","x":2007,"y":26.7},{"g":"NF","r":"A","l":"US","x":2008,"y":26.3},{"g":"NF","r":"A","l":"US","x":2009,"y":21},{"g":"NF","r":"A","l":"US","x":2010,"y":18},{"g":"NF","r":"A","l":"US","x":2011,"y":18.2},{"g":"NF","r":"A","l":"US","x":2012,"y":18.6},{"g":"NF","r":"A","l":"US","x":2013,"y":19},{"g":"NF","r":"A","l":"US","x":2014,"y":20.6},{"g":"NF","r":"A","l":"US","x":2015,"y":22.4},

{"g":"R","r":"A","l":"DE","x":2000.25,"y":4.8},{"g":"R","r":"A","l":"DE","x":2001,"y":5.1},{"g":"R","r":"A","l":"DE","x":2002,"y":5.1},{"g":"R","r":"A","l":"DE","x":2003,"y":5},{"g":"R","r":"A","l":"DE","x":2004,"y":4.5},{"g":"R","r":"A","l":"DE","x":2005,"y":4.8},{"g":"R","r":"A","l":"DE","x":2006,"y":5.5},{"g":"R","r":"A","l":"DE","x":2007,"y":6},{"g":"R","r":"A","l":"DE","x":2008,"y":6.1},{"g":"R","r":"A","l":"DE","x":2009,"y":5.6},{"g":"R","r":"A","l":"DE","x":2010,"y":4.8},{"g":"R","r":"A","l":"DE","x":2011,"y":4.7},{"g":"R","r":"A","l":"DE","x":2012,"y":4.7},{"g":"R","r":"A","l":"DE","x":2013,"y":4.7},{"g":"R","r":"A","l":"DE","x":2014,"y":4.7},{"g":"R","r":"A","l":"DE","x":2015,"y":4.6},{"g":"R","r":"A","l":"DE","x":2015.5,"y":4.6},
{"g":"R","r":"A","l":"FR","x":2000.25,"y":5.9},{"g":"R","r":"A","l":"FR","x":2001,"y":6.1},{"g":"R","r":"A","l":"FR","x":2002,"y":6.5},{"g":"R","r":"A","l":"FR","x":2003,"y":5.8},{"g":"R","r":"A","l":"FR","x":2004,"y":5.5},{"g":"R","r":"A","l":"FR","x":2005,"y":5.6},{"g":"R","r":"A","l":"FR","x":2006,"y":5.8},{"g":"R","r":"A","l":"FR","x":2007,"y":6.1},{"g":"R","r":"A","l":"FR","x":2008,"y":6.1},{"g":"R","r":"A","l":"FR","x":2009,"y":5.7},{"g":"R","r":"A","l":"FR","x":2010,"y":5.3},{"g":"R","r":"A","l":"FR","x":2011,"y":5.5},{"g":"R","r":"A","l":"FR","x":2012,"y":5.5},{"g":"R","r":"A","l":"FR","x":2013,"y":5.8},{"g":"R","r":"A","l":"FR","x":2014,"y":6.1},{"g":"R","r":"A","l":"FR","x":2015,"y":6.1},{"g":"R","r":"A","l":"FR","x":2015.5,"y":6.1},
{"g":"R","r":"A","l":"GB","x":2000.25,"y":5.3},{"g":"R","r":"A","l":"GB","x":2001,"y":5.1},{"g":"R","r":"A","l":"GB","x":2002,"y":4.5},{"g":"R","r":"A","l":"GB","x":2003,"y":3.8},{"g":"R","r":"A","l":"GB","x":2004,"y":3},{"g":"R","r":"A","l":"GB","x":2005,"y":3.2},{"g":"R","r":"A","l":"GB","x":2006,"y":3.3},{"g":"R","r":"A","l":"GB","x":2007,"y":3.3},{"g":"R","r":"A","l":"GB","x":2008,"y":3.3},{"g":"R","r":"A","l":"GB","x":2009,"y":3.6},{"g":"R","r":"A","l":"GB","x":2010,"y":3.8},{"g":"R","r":"A","l":"GB","x":2011,"y":3.8},{"g":"R","r":"A","l":"GB","x":2012,"y":3.4},{"g":"R","r":"A","l":"GB","x":2013,"y":3.1},{"g":"R","r":"A","l":"GB","x":2014,"y":2.8},{"g":"R","r":"A","l":"GB","x":2015,"y":2.7},
{"g":"R","r":"A","l":"IT","x":2013,"y":7.6},{"g":"R","r":"A","l":"IT","x":2014,"y":7.5},{"g":"R","r":"A","l":"IT","x":2014.75,"y":7.3},
{"g":"R","r":"A","l":"ES","x":2000.25,"y":4.3},{"g":"R","r":"A","l":"ES","x":2001,"y":5.3},{"g":"R","r":"A","l":"ES","x":2002,"y":5.3},{"g":"R","r":"A","l":"ES","x":2003,"y":5},{"g":"R","r":"A","l":"ES","x":2004,"y":4.6},{"g":"R","r":"A","l":"ES","x":2005,"y":5.1},{"g":"R","r":"A","l":"ES","x":2006,"y":5.8},{"g":"R","r":"A","l":"ES","x":2007,"y":6.2},{"g":"R","r":"A","l":"ES","x":2008,"y":6},{"g":"R","r":"A","l":"ES","x":2009,"y":5.4},{"g":"R","r":"A","l":"ES","x":2010,"y":5.1},{"g":"R","r":"A","l":"ES","x":2011,"y":5.2},{"g":"R","r":"A","l":"ES","x":2012,"y":5.2},{"g":"R","r":"A","l":"ES","x":2013,"y":5.3},{"g":"R","r":"A","l":"ES","x":2014,"y":5.4},{"g":"R","r":"A","l":"ES","x":2015,"y":5.5},{"g":"R","r":"A","l":"ES","x":2015.5,"y":5.5},
{"g":"R","r":"A","l":"US","x":2000.25,"y":6.1},{"g":"R","r":"A","l":"US","x":2001,"y":6.2},{"g":"R","r":"A","l":"US","x":2002,"y":6.1},{"g":"R","r":"A","l":"US","x":2003,"y":6},{"g":"R","r":"A","l":"US","x":2004,"y":6},{"g":"R","r":"A","l":"US","x":2005,"y":6.1},{"g":"R","r":"A","l":"US","x":2006,"y":6.2},{"g":"R","r":"A","l":"US","x":2007,"y":6.6},{"g":"R","r":"A","l":"US","x":2008,"y":7},{"g":"R","r":"A","l":"US","x":2009,"y":7.1},{"g":"R","r":"A","l":"US","x":2010,"y":7.2},{"g":"R","r":"A","l":"US","x":2011,"y":7.3},{"g":"R","r":"A","l":"US","x":2012,"y":7.3},{"g":"R","r":"A","l":"US","x":2013,"y":7.4},{"g":"R","r":"A","l":"US","x":2014,"y":7.5},{"g":"R","r":"A","l":"US","x":2015,"y":7.7},{"g":"R","r":"A","l":"US","x":2015.5,"y":7.7},

{"g":"S","r":"A","l":"DE","x":2000.25,"y":2},{"g":"S","r":"A","l":"DE","x":2001,"y":2},{"g":"S","r":"A","l":"DE","x":2002,"y":2},{"g":"S","r":"A","l":"DE","x":2003,"y":2.1},{"g":"S","r":"A","l":"DE","x":2004,"y":2.2},{"g":"S","r":"A","l":"DE","x":2005,"y":2.4},{"g":"S","r":"A","l":"DE","x":2006,"y":2.3},{"g":"S","r":"A","l":"DE","x":2007,"y":1.7},{"g":"S","r":"A","l":"DE","x":2008,"y":1.7},{"g":"S","r":"A","l":"DE","x":2009,"y":1.7},{"g":"S","r":"A","l":"DE","x":2010,"y":1.7},{"g":"S","r":"A","l":"DE","x":2011,"y":1.7},{"g":"S","r":"A","l":"DE","x":2012,"y":1.7},{"g":"S","r":"A","l":"DE","x":2013,"y":1.6},{"g":"S","r":"A","l":"DE","x":2014,"y":1.5},{"g":"S","r":"A","l":"DE","x":2015,"y":1.3},{"g":"S","r":"A","l":"DE","x":2015.5,"y":1.2},
{"g":"S","r":"A","l":"FR","x":2000.25,"y":1.9},{"g":"S","r":"A","l":"FR","x":2001,"y":2},{"g":"S","r":"A","l":"FR","x":2002,"y":2.1},{"g":"S","r":"A","l":"FR","x":2003,"y":2.1},{"g":"S","r":"A","l":"FR","x":2004,"y":2},{"g":"S","r":"A","l":"FR","x":2005,"y":1.8},{"g":"S","r":"A","l":"FR","x":2006,"y":1.5},{"g":"S","r":"A","l":"FR","x":2007,"y":1.2},{"g":"S","r":"A","l":"FR","x":2008,"y":1.2},{"g":"S","r":"A","l":"FR","x":2009,"y":1.4},{"g":"S","r":"A","l":"FR","x":2010,"y":1.5},{"g":"S","r":"A","l":"FR","x":2011,"y":1.6},{"g":"S","r":"A","l":"FR","x":2012,"y":1.7},{"g":"S","r":"A","l":"FR","x":2013,"y":1.6},{"g":"S","r":"A","l":"FR","x":2014,"y":1.5},{"g":"S","r":"A","l":"FR","x":2015,"y":1.2},{"g":"S","r":"A","l":"FR","x":2015.5,"y":1.2},
{"g":"S","r":"A","l":"GB","x":2000.25,"y":0.5},{"g":"S","r":"A","l":"GB","x":2001,"y":0.5},{"g":"S","r":"A","l":"GB","x":2002,"y":0.5},{"g":"S","r":"A","l":"GB","x":2003,"y":0.5},{"g":"S","r":"A","l":"GB","x":2004,"y":0.5},{"g":"S","r":"A","l":"GB","x":2005,"y":0.5},{"g":"S","r":"A","l":"GB","x":2006,"y":0.5},{"g":"S","r":"A","l":"GB","x":2007,"y":0.5},{"g":"S","r":"A","l":"GB","x":2008,"y":0.5},{"g":"S","r":"A","l":"GB","x":2009,"y":0.5},{"g":"S","r":"A","l":"GB","x":2010,"y":0.5},{"g":"S","r":"A","l":"GB","x":2011,"y":0.5},{"g":"S","r":"A","l":"GB","x":2012,"y":0.5},{"g":"S","r":"A","l":"GB","x":2013,"y":0.9},{"g":"S","r":"A","l":"GB","x":2014,"y":1.3},{"g":"S","r":"A","l":"GB","x":2015,"y":1.3},{"g":"S","r":"A","l":"GB","x":2015.5,"y":1.2},
{"g":"S","r":"A","l":"IT","x":2013,"y":9.8},{"g":"S","r":"A","l":"IT","x":2014,"y":9.3},{"g":"S","r":"A","l":"IT","x":2015,"y":8.4},{"g":"S","r":"A","l":"IT","x":2015.5,"y":7.7},
{"g":"S","r":"A","l":"ES","x":2000.25,"y":1.9},{"g":"S","r":"A","l":"ES","x":2001,"y":1.6},{"g":"S","r":"A","l":"ES","x":2002,"y":1.7},{"g":"S","r":"A","l":"ES","x":2003,"y":1.9},{"g":"S","r":"A","l":"ES","x":2004,"y":1.5},{"g":"S","r":"A","l":"ES","x":2005,"y":1.2},{"g":"S","r":"A","l":"ES","x":2006,"y":0.9},{"g":"S","r":"A","l":"ES","x":2007,"y":0.8},{"g":"S","r":"A","l":"ES","x":2008,"y":0.8},{"g":"S","r":"A","l":"ES","x":2009,"y":0.8},{"g":"S","r":"A","l":"ES","x":2010,"y":0.9},{"g":"S","r":"A","l":"ES","x":2011,"y":1.1},{"g":"S","r":"A","l":"ES","x":2012,"y":1.5},{"g":"S","r":"A","l":"ES","x":2013,"y":2.1},{"g":"S","r":"A","l":"ES","x":2014,"y":1.6},{"g":"S","r":"A","l":"ES","x":2015,"y":1.1},{"g":"S","r":"A","l":"ES","x":2015.5,"y":1},
{"g":"S","r":"A","l":"US","x":2000.25,"y":2.6},{"g":"S","r":"A","l":"US","x":2001,"y":2.2},{"g":"S","r":"A","l":"US","x":2002,"y":1.9},{"g":"S","r":"A","l":"US","x":2003,"y":1.9},{"g":"S","r":"A","l":"US","x":2004,"y":2.2},{"g":"S","r":"A","l":"US","x":2005,"y":2.6},{"g":"S","r":"A","l":"US","x":2006,"y":2.5},{"g":"S","r":"A","l":"US","x":2007,"y":2.3},{"g":"S","r":"A","l":"US","x":2008,"y":2.3},{"g":"S","r":"A","l":"US","x":2009,"y":2.7},{"g":"S","r":"A","l":"US","x":2010,"y":3.5},{"g":"S","r":"A","l":"US","x":2011,"y":3.6},{"g":"S","r":"A","l":"US","x":2012,"y":3.5},{"g":"S","r":"A","l":"US","x":2013,"y":3.2},{"g":"S","r":"A","l":"US","x":2014,"y":2.8},{"g":"S","r":"A","l":"US","x":2015,"y":2.2},{"g":"S","r":"A","l":"US","x":2015.5,"y":2.1},

{"g":"V","r":"A","l":"DE","x":2000.25,"y":29.4},{"g":"V","r":"A","l":"DE","x":2001,"y":30.3},{"g":"V","r":"A","l":"DE","x":2002,"y":31.3},{"g":"V","r":"A","l":"DE","x":2003,"y":32},{"g":"V","r":"A","l":"DE","x":2004,"y":31.8},{"g":"V","r":"A","l":"DE","x":2005,"y":31.6},{"g":"V","r":"A","l":"DE","x":2006,"y":31.7},{"g":"V","r":"A","l":"DE","x":2007,"y":32.8},{"g":"V","r":"A","l":"DE","x":2008,"y":33.3},{"g":"V","r":"A","l":"DE","x":2009,"y":35.7},{"g":"V","r":"A","l":"DE","x":2010,"y":36.2},{"g":"V","r":"A","l":"DE","x":2011,"y":36.5},{"g":"V","r":"A","l":"DE","x":2012,"y":36.9},{"g":"V","r":"A","l":"DE","x":2013,"y":37.2},{"g":"V","r":"A","l":"DE","x":2014,"y":37.5},{"g":"V","r":"A","l":"DE","x":2015,"y":37.4},{"g":"V","r":"A","l":"DE","x":2015.5,"y":37.3},
{"g":"V","r":"A","l":"FR","x":2000.25,"y":26.2},{"g":"V","r":"A","l":"FR","x":2001,"y":26.8},{"g":"V","r":"A","l":"FR","x":2002,"y":29.4},{"g":"V","r":"A","l":"FR","x":2003,"y":30.8},{"g":"V","r":"A","l":"FR","x":2004,"y":31},{"g":"V","r":"A","l":"FR","x":2005,"y":31.6},{"g":"V","r":"A","l":"FR","x":2006,"y":32.1},{"g":"V","r":"A","l":"FR","x":2007,"y":33.2},{"g":"V","r":"A","l":"FR","x":2008,"y":34},{"g":"V","r":"A","l":"FR","x":2009,"y":36.6},{"g":"V","r":"A","l":"FR","x":2010,"y":37.1},{"g":"V","r":"A","l":"FR","x":2011,"y":37.2},{"g":"V","r":"A","l":"FR","x":2012,"y":37.1},{"g":"V","r":"A","l":"FR","x":2013,"y":36.9},{"g":"V","r":"A","l":"FR","x":2014,"y":36.8},{"g":"V","r":"A","l":"FR","x":2015,"y":37.1},{"g":"V","r":"A","l":"FR","x":2015.5,"y":37.3},
{"g":"V","r":"A","l":"GB","x":2000.25,"y":55.9},{"g":"V","r":"A","l":"GB","x":2001,"y":55.6},{"g":"V","r":"A","l":"GB","x":2002,"y":58.2},{"g":"V","r":"A","l":"GB","x":2003,"y":60.3},{"g":"V","r":"A","l":"GB","x":2004,"y":59.8},{"g":"V","r":"A","l":"GB","x":2005,"y":59.3},{"g":"V","r":"A","l":"GB","x":2006,"y":59},{"g":"V","r":"A","l":"GB","x":2007,"y":57.8},{"g":"V","r":"A","l":"GB","x":2008,"y":56.6},{"g":"V","r":"A","l":"GB","x":2009,"y":57.3},{"g":"V","r":"A","l":"GB","x":2010,"y":57.4},{"g":"V","r":"A","l":"GB","x":2011,"y":56.6},{"g":"V","r":"A","l":"GB","x":2012,"y":58},{"g":"V","r":"A","l":"GB","x":2013,"y":60.8},{"g":"V","r":"A","l":"GB","x":2014,"y":59.8},{"g":"V","r":"A","l":"GB","x":2015,"y":59.4},{"g":"V","r":"A","l":"GB","x":2015.5,"y":59.8},
{"g":"V","r":"A","l":"IT","x":2013,"y":19.3},{"g":"V","r":"A","l":"IT","x":2014,"y":19.5},{"g":"V","r":"A","l":"IT","x":2015,"y":19.8},{"g":"V","r":"A","l":"IT","x":2015.5,"y":20.9},
{"g":"V","r":"A","l":"ES","x":2000.25,"y":12.6},{"g":"V","r":"A","l":"ES","x":2001,"y":13.3},{"g":"V","r":"A","l":"ES","x":2002,"y":14.6},{"g":"V","r":"A","l":"ES","x":2003,"y":15.6},{"g":"V","r":"A","l":"ES","x":2004,"y":15.9},{"g":"V","r":"A","l":"ES","x":2005,"y":15.6},{"g":"V","r":"A","l":"ES","x":2006,"y":15},{"g":"V","r":"A","l":"ES","x":2007,"y":14.6},{"g":"V","r":"A","l":"ES","x":2008,"y":14.1},{"g":"V","r":"A","l":"ES","x":2009,"y":15.4},{"g":"V","r":"A","l":"ES","x":2010,"y":16.4},{"g":"V","r":"A","l":"ES","x":2011,"y":16.6},{"g":"V","r":"A","l":"ES","x":2012,"y":16.2},{"g":"V","r":"A","l":"ES","x":2013,"y":16.4},{"g":"V","r":"A","l":"ES","x":2014,"y":16.5},{"g":"V","r":"A","l":"ES","x":2015,"y":16.5},{"g":"V","r":"A","l":"ES","x":2015.5,"y":17},
{"g":"V","r":"A","l":"US","x":2000.25,"y":32},{"g":"V","r":"A","l":"US","x":2001,"y":32},{"g":"V","r":"A","l":"US","x":2002,"y":33.8},{"g":"V","r":"A","l":"US","x":2003,"y":36},{"g":"V","r":"A","l":"US","x":2004,"y":35.2},{"g":"V","r":"A","l":"US","x":2005,"y":33.8},{"g":"V","r":"A","l":"US","x":2006,"y":33.4},{"g":"V","r":"A","l":"US","x":2007,"y":33},{"g":"V","r":"A","l":"US","x":2008,"y":32.2},{"g":"V","r":"A","l":"US","x":2009,"y":34.5},{"g":"V","r":"A","l":"US","x":2010,"y":35.4},{"g":"V","r":"A","l":"US","x":2011,"y":36.2},{"g":"V","r":"A","l":"US","x":2012,"y":36.7},{"g":"V","r":"A","l":"US","x":2013,"y":36.2},{"g":"V","r":"A","l":"US","x":2014,"y":34.7},{"g":"V","r":"A","l":"US","x":2015,"y":33.3}
]
},
"data": {"name": "main"},
"spacing": 0,
"vconcat": [
{
"data": {"name": "strips"},
"facet": {"column": {"field": "g", "type": "nominal", "header": null}},
"spacing": 16.8,
"spec": {
"width": 170, "height": 24,
"view": {"fill": "#cccccc", "stroke": "#b3b3b3"},
"mark": {"type": "text", "fontSize": 12, "color": "#1a1a1a", "font": "Liberation Sans"},
"encoding": {"text": {"field": "t"}}
}
},
{
"spacing": 16,
"vconcat": [
{
"spacing": 0,
"hconcat": [
{
"transform": [{"filter": "datum.r == 'L'"}],
"facet": {"column": {"field": "g", "type": "nominal", "header": null}},
"spacing": 16.8,
"spec": {
"width": 170, "height": 428,
"view": {"stroke": "#b3b3b3", "fill": "white"},
"mark": {"type": "line", "strokeWidth": 2.2, "interpolate": "monotone"},
"encoding": {
"x": {"field": "x", "type": "quantitative", "scale": {"domain": [1999.5, 2016.2], "nice": false, "zero": false},
 "axis": {"values": [2000, 2002.5, 2005, 2007.5, 2010, 2012.5, 2015], "labels": false, "ticks": false, "domain": false, "title": null,
  "gridColor": {"condition": {"test": "datum.value % 5 == 0", "value": "#ebebeb"}, "value": "#f6f6f6"}}},
"y": {"field": "y", "type": "quantitative", "scale": {"domain": [-4, 82.4], "nice": false, "zero": false},
 "axis": {"values": [0, 10, 20, 30, 40, 50, 60, 70, 80], "title": null, "domain": false, "tickSize": 4, "tickColor": "#333333", "labelPadding": 2,
  "labelExpr": "datum.value % 20 == 0 ? datum.value + '%' : ''",
  "tickOpacity": {"condition": {"test": "datum.value % 20 == 0", "value": 1}, "value": 0},
  "gridColor": {"condition": {"test": "datum.value % 20 == 0", "value": "#ebebeb"}, "value": "#f6f6f6"}}},
"color": {"field": "l", "type": "nominal", "scale": {"domain": ["DE","FR","GB","IT","ES","US"], "range": ["#c41a30","#000000","#5cb85c","#e8654f","#133f7a","#1d7a33"]},
 "legend": {"title": "Land", "orient": "none", "legendX": 1154, "legendY": 388, "symbolType": "stroke", "symbolSize": 300, "symbolStrokeWidth": 2, "labelFontSize": 11, "titleFontSize": 14, "titleFontWeight": "normal", "rowPadding": 7,
  "labelExpr": "datum.label == 'DE' ? 'Deutschland' : datum.label == 'FR' ? 'Frankreich' : datum.label == 'GB' ? 'Gro\u00c3\u0178britannien' : datum.label == 'IT' ? 'Italien' : datum.label == 'ES' ? 'Spanien' : 'USA'"}},
"strokeDash": {"field": "l", "type": "nominal", "scale": {"domain": ["DE","FR","GB","IT","ES","US"], "range": [[1,0],[9,4,4,4],[8,7],[1,0],[2,6,8,6],[8,6,2,6]]},
 "legend": {"title": "Land", "orient": "none", "legendX": 1154, "legendY": 388, "symbolType": "stroke", "symbolSize": 300, "symbolStrokeWidth": 2, "labelFontSize": 11, "titleFontSize": 14, "titleFontWeight": "normal", "rowPadding": 7,
  "labelExpr": "datum.label == 'DE' ? 'Deutschland' : datum.label == 'FR' ? 'Frankreich' : datum.label == 'GB' ? 'Gro\u00c3\u0178britannien' : datum.label == 'IT' ? 'Italien' : datum.label == 'ES' ? 'Spanien' : 'USA'"}}
}
}
},
{"width": 25, "height": 428, "data": {"values": [{"t": "Verbindlichkeiten-Intermediationsrate"}]}, "view": {"fill": "#cccccc", "stroke": "#b3b3b3"}, "mark": {"type": "text", "angle": 90, "fontSize": 12, "color": "#1a1a1a", "font": "Liberation Sans"}, "encoding": {"text": {"field": "t"}}}
]
},
{
"spacing": 0,
"hconcat": [
{
"transform": [{"filter": "datum.r == 'A'"}],
"facet": {"column": {"field": "g", "type": "nominal", "header": null}},
"spacing": 16.8,
"spec": {
"width": 170, "height": 427,
"view": {"stroke": "#b3b3b3", "fill": "white"},
"mark": {"type": "line", "strokeWidth": 2.2, "interpolate": "monotone"},
"encoding": {
"x": {"field": "x", "type": "quantitative", "scale": {"domain": [1999.5, 2016.2], "nice": false, "zero": false},
 "axis": {"values": [2000, 2002.5, 2005, 2007.5, 2010, 2012.5, 2015], "title": null, "domain": false, "tickSize": 4, "tickColor": "#333333", "labelPadding": 2, "format": "d", "labelFlush": false, "labelOverlap": false,
  "labelExpr": "datum.value % 5 == 0 ? datum.label : ''",
  "tickOpacity": {"condition": {"test": "datum.value % 5 == 0", "value": 1}, "value": 0},
  "gridColor": {"condition": {"test": "datum.value % 5 == 0", "value": "#ebebeb"}, "value": "#f6f6f6"}}},
"y": {"field": "y", "type": "quantitative", "scale": {"domain": [-2.5, 63.9], "nice": false, "zero": false},
 "axis": {"values": [0, 10, 20, 30, 40, 50, 60], "title": null, "domain": false, "tickSize": 4, "tickColor": "#333333", "labelPadding": 2,
  "labelExpr": "datum.value % 20 == 0 ? datum.value + '%' : ''",
  "tickOpacity": {"condition": {"test": "datum.value % 20 == 0", "value": 1}, "value": 0},
  "gridColor": {"condition": {"test": "datum.value % 20 == 0", "value": "#ebebeb"}, "value": "#f6f6f6"}}},
"color": {"field": "l", "type": "nominal", "scale": {"domain": ["DE","FR","GB","IT","ES","US"], "range": ["#c41a30","#000000","#5cb85c","#e8654f","#133f7a","#1d7a33"]},
 "legend": {"title": "Land", "orient": "none", "legendX": 1154, "legendY": 388, "symbolType": "stroke", "symbolSize": 300, "symbolStrokeWidth": 2, "labelFontSize": 11, "titleFontSize": 14, "titleFontWeight": "normal", "rowPadding": 7,
  "labelExpr": "datum.label == 'DE' ? 'Deutschland' : datum.label == 'FR' ? 'Frankreich' : datum.label == 'GB' ? 'Gro\u00c3\u0178britannien' : datum.label == 'IT' ? 'Italien' : datum.label == 'ES' ? 'Spanien' : 'USA'"}},
"strokeDash": {"field": "l", "type": "nominal", "scale": {"domain": ["DE","FR","GB","IT","ES","US"], "range": [[1,0],[9,4,4,4],[8,7],[1,0],[2,6,8,6],[8,6,2,6]]},
 "legend": {"title": "Land", "orient": "none", "legendX": 1154, "legendY": 388, "symbolType": "stroke", "symbolSize": 300, "symbolStrokeWidth": 2, "labelFontSize": 11, "titleFontSize": 14, "titleFontWeight": "normal", "rowPadding": 7,
  "labelExpr": "datum.label == 'DE' ? 'Deutschland' : datum.label == 'FR' ? 'Frankreich' : datum.label == 'GB' ? 'Gro\u00c3\u0178britannien' : datum.label == 'IT' ? 'Italien' : datum.label == 'ES' ? 'Spanien' : 'USA'"}}
}
}
},
{"width": 25, "height": 427, "data": {"values": [{"t": "Verm\u00c3\u00b6gen-Intermediationsrate"}]}, "view": {"fill": "#cccccc", "stroke": "#b3b3b3"}, "mark": {"type": "text", "angle": 90, "fontSize": 12, "color": "#1a1a1a", "font": "Liberation Sans"}, "encoding": {"text": {"field": "t"}}}
]
}
]
}
],
"config": {
"font": "Liberation Sans",
"view": {"stroke": "#b3b3b3"},
"axis": {"labelFont": "Liberation Sans", "labelFontSize": 11, "labelColor": "#4d4d4d", "gridWidth": 1},
"legend": {"labelFont": "Liberation Sans", "titleFont": "Liberation Sans", "labelColor": "#000000", "titleColor": "#000000"},
"line": {"strokeCap": "butt"}
}
}
